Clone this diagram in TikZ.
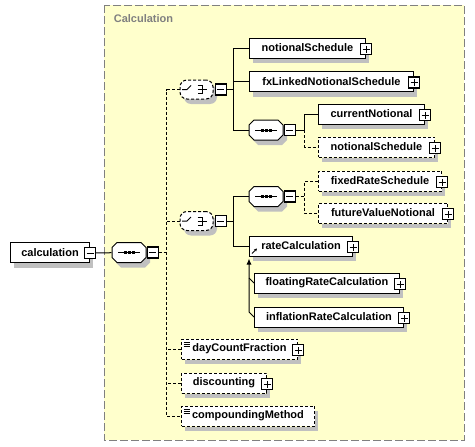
\documentclass[tikz,border=0pt]{standalone}
\usepackage{fontspec}
\setmainfont{Liberation Sans}
\usetikzlibrary{arrows.meta}
\definecolor{groupbg}{RGB}{255,255,204}
\definecolor{groupline}{RGB}{128,128,128}
\definecolor{shadowgray}{RGB}{192,192,192}
\tikzset{
  elem/.style={draw,fill=white,anchor=west,minimum height=20pt,
    inner xsep=8pt,inner ysep=0pt,font=\bfseries\fontsize{11}{13}\selectfont},
  opt/.style={dash pattern=on 3pt off 2pt},
  simple/.style={path picture={
    \foreach \k in {3,5,7}
      \draw[solid,line width=.8pt] ([xshift=2pt,yshift=-\k pt]path picture bounding box.north west) -- ++(6pt,0pt);}},
  subst/.style={path picture={
    \draw[line width=.8pt,-{Stealth[length=3pt,width=3pt]}] ([shift={(2.5pt,2.5pt)}]path picture bounding box.south west) -- ++(5pt,5pt);}},
  pbox/.style={draw,solid,fill=white,line width=1.2pt,minimum size=11pt,inner sep=0pt,
    path picture={\draw[line width=1pt]
      ([xshift=-3.5pt]path picture bounding box.center) -- ([xshift=3.5pt]path picture bounding box.center)
      ([yshift=-3.5pt]path picture bounding box.center) -- ([yshift=3.5pt]path picture bounding box.center);}},
  mbox/.style={draw,solid,fill=white,line width=1.2pt,minimum size=11pt,inner sep=0pt,
    path picture={\draw[line width=1pt]
      ([xshift=-3.5pt]path picture bounding box.center) -- ([xshift=3.5pt]path picture bounding box.center);}},
  seqbox/.style={rectangle,minimum width=34pt,minimum height=20pt,inner sep=0pt,
    path picture={
      \draw ([xshift=-11pt]path picture bounding box.center) -- ([xshift=11pt]path picture bounding box.center);
      \foreach \k in {-4,0,4}
        \fill ([shift={(\k pt-1.5pt,-1.5pt)}]path picture bounding box.center) rectangle ++(3pt,3pt);}},
  choicebox/.style={rectangle,rounded corners=7pt,draw,opt,fill=white,
    minimum width=33pt,minimum height=19pt,inner sep=0pt,
    path picture={
      \draw[solid,sharp corners] ([xshift=-14.5pt]path picture bounding box.center) -- ++(5pt,0pt) -- ++(4pt,4pt);
      \foreach \k in {-4,0,4}
        \fill[sharp corners] ([shift={(-2pt,\k pt-1.5pt)}]path picture bounding box.center) rectangle ++(3pt,3pt);
      \draw[solid,sharp corners] ([shift={(1pt,4pt)}]path picture bounding box.center) -- ++(5pt,0pt) -- ++(0pt,-8pt) -- ++(-5pt,0pt)
        ([shift={(1pt,0pt)}]path picture bounding box.center) -- ++(9pt,0pt);}}
}
\begin{document}
\begin{tikzpicture}[x=1pt,y=-1pt,line width=1pt]
  \useasboundingbox (0,0) rectangle (475,447);
  \draw[groupline,fill=groupbg,dash pattern=on 8pt off 3pt] (104,5) rectangle (464,440);
  \node[anchor=west,text=groupline,font=\bfseries\fontsize{11}{13}\selectfont] (title) at (110,19) {Calculation};

  % compositor shadows and sequence frames
  \foreach \y in {89.5,221}
    \fill[shadowgray,rounded corners=7pt] (184,\y-4.5) rectangle ++(33,19);
  \foreach \x/\y in {129/252.5,266/130,266/196.5} {
    \begin{scope}[shift={(\x,\y)}]
      \fill[shadowgray] (-8,-5) -- (16,-5) -- (21,0) -- (21,10) -- (16,15) -- (-8,15) -- (-13,10) -- (-13,0) -- cycle;
      \draw[fill=white] (-12,-10) -- (12,-10) -- (17,-5) -- (17,5) -- (12,10) -- (-12,10) -- (-17,5) -- (-17,-5) -- cycle;
    \end{scope}
  }

  \node[elem,minimum width=79pt] (calc) at (10,252.5) {calculation};
  \node[seqbox] (seq) at (129,252.5) {};
  \node[mbox,anchor=west] (seqm) at (seq.east) {};

  % choice: notional
  \node[choicebox] (ch1) at (196.5,89.5) {};
  \node[mbox,anchor=west] (ch1m) at ([xshift=1pt]ch1.east) {};
  \node[elem,minimum width=116pt] (ns1) at (249,48) {notionalSchedule};
  \node[elem,minimum width=164pt] (fx) at (249,81.5) {fxLinkedNotionalSchedule};
  \node[seqbox] (seq2) at (266,130) {};
  \node[mbox,anchor=west] (seq2m) at (seq2.east) {};
  \node[elem,minimum width=106pt] (cur) at (318,114) {currentNotional};
  \node[elem,opt,minimum width=116pt] (ns2) at (318,147) {notionalSchedule};
  \draw (ch1m.east) -- ++(7,0) coordinate (c1);
  \draw (ns1.west) -| (c1) |- (seq2.west);
  \draw (fx.west) -- (fx.west -| c1);
  \draw (seq2m.east) -- ++(9,0) coordinate (c2);
  \draw (cur.west) -| (c2);
  \draw[opt] (c2) |- (ns2.west);

  % choice: rate
  \node[choicebox] (ch2) at (196.5,221) {};
  \node[mbox,anchor=west] (ch2m) at ([xshift=1pt]ch2.east) {};
  \node[seqbox] (seq3) at (266,196.5) {};
  \node[mbox,anchor=west] (seq3m) at (seq3.east) {};
  \node[elem,opt,minimum width=123pt] (frs) at (318,181) {fixedRateSchedule};
  \node[elem,opt,minimum width=129pt] (fvn) at (318,213) {futureValueNotional};
  \node[elem,subst,minimum width=103pt] (rc) at (249,246) {rateCalculation};
  \node[elem,minimum width=145pt] (frc) at (254,283) {floatingRateCalculation};
  \node[elem,minimum width=149pt] (irc) at (254,317) {inflationRateCalculation};
  \draw (ch2m.east) -- ++(7,0) coordinate (c3);
  \draw (seq3.west) -| (c3) |- (rc.west);
  \draw[opt] (seq3m.east) -- ++(9,0) coordinate (c4);
  \draw[opt] (frs.west) -| (c4) |- (fvn.west);
  \draw[-{Latex[length=6pt,width=5pt]}] (irc.west) -- ++(-5pt,5pt) -- ([yshift=-2pt]rc.south west);
  \draw (frc.west) -- ++(-5pt,5pt);

  % remaining members
  \node[elem,opt,simple,minimum width=116pt] (dcf) at (181,349) {dayCountFraction};
  \node[elem,opt,minimum width=85pt] (disc) at (181,383) {discounting};
  \node[elem,opt,simple,minimum width=133pt] (cm) at (181,416) {compoundingMethod};

  \draw[opt] (seqm.east) -- ++(8,0) coordinate (trunk);
  \draw[opt] (ch1.west) -| (trunk) |- (cm.west);
  \draw[opt] (ch2.west) -- (ch2.west -| trunk);
  \draw[opt] (dcf.west) -- (dcf.west -| trunk);
  \draw[opt] (disc.west) -- (disc.west -| trunk);

  % element shadows, outside the frames
  \foreach \x/\y/\w in {10/252.5/79,249/48/116,249/81.5/164,318/114/106,318/147/116,318/181/123,
      318/213/129,249/246/103,254/283/145,254/317/149,181/349/116,181/383/85,181/416/133} {
    \fill[shadowgray] (\x+4,\y+10.5) rectangle (\x+\w+4,\y+15);
    \fill[shadowgray] (\x+\w+0.5,\y-5) rectangle (\x+\w+4,\y+15);
  }

  % expand and collapse buttons
  \node[mbox] (calcm) at ([yshift=-0.5pt]calc.east) {};
  \draw (calcm) -- (seq);
  \foreach \n in {ns1,fx,cur,ns2,frs,fvn,rc,frc,irc,dcf,disc}
    \node[pbox] at ([yshift=-1pt]\n.east) {};
\end{tikzpicture}
\end{document}
